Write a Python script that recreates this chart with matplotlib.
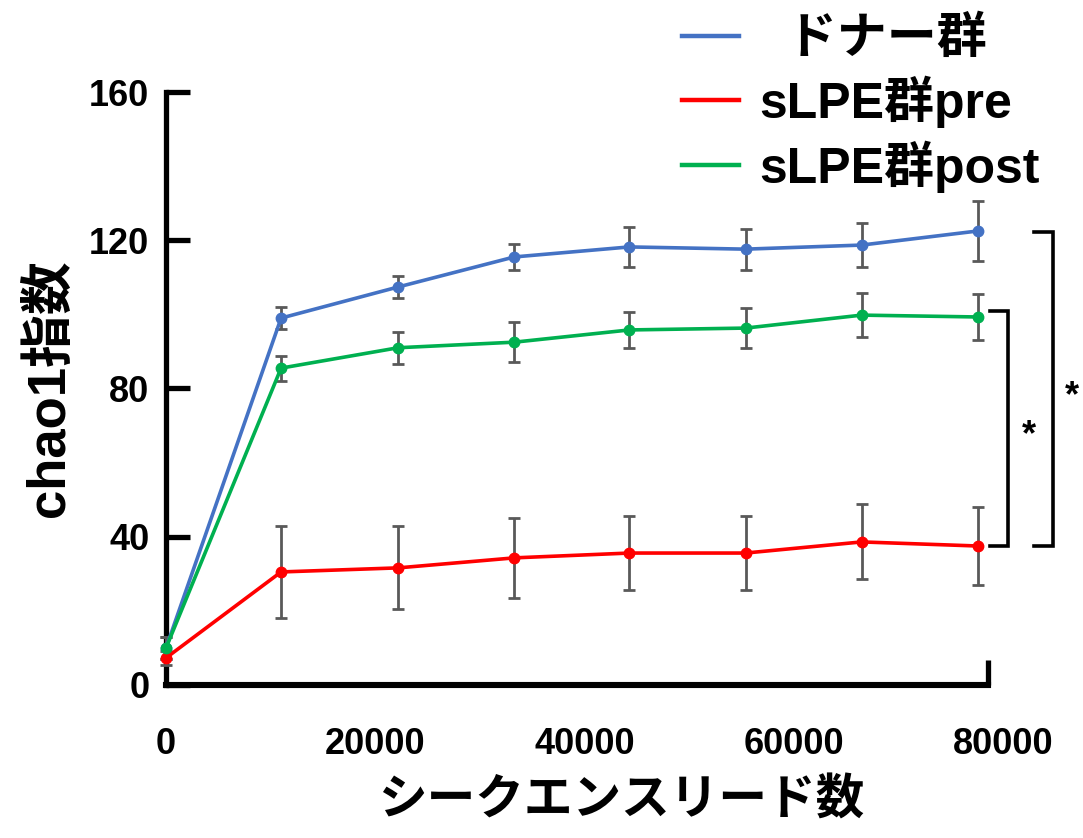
import numpy as np
import matplotlib
matplotlib.use("Agg")
import matplotlib.pyplot as plt
from matplotlib.lines import Line2D
from matplotlib.ticker import NullFormatter

plt.rcParams['font.family'] = ['Liberation Sans', 'Noto Sans CJK JP', 'DejaVu Sans']

# read depth (sequence reads)
reads = [0, 11000, 22200, 33300, 44300, 55400, 66500, 77600]

# chao1 index, mean and error per group
donor = [10.0, 99.0, 107.4, 115.5, 118.2, 117.6, 118.7, 122.5]
donor_err = [3.0, 3.0, 3.0, 3.5, 5.5, 5.5, 6.0, 8.0]

pre = [7.3, 30.5, 31.6, 34.3, 35.6, 35.6, 38.6, 37.5]
pre_err = [2.0, 12.3, 11.2, 10.8, 10.0, 10.0, 10.1, 10.4]

post = [10.0, 85.5, 91.0, 92.5, 95.8, 96.3, 99.8, 99.3]
post_err = [3.0, 3.4, 4.3, 5.4, 4.9, 5.3, 6.0, 6.2]

labels = ['  ドナー群', 'sLPE群pre', 'sLPE群post']
colors = ['#4472C4', '#FF0000', '#00B050']

xticks = [0, 20000, 40000, 60000, 80000]
yticks = [0, 40, 80, 120, 160]

fig = plt.figure(figsize=(10.83, 8.38), dpi=100)
ax = fig.add_axes([0.1533, 0.1826, 0.8403, 0.7076])

series = [(donor, donor_err), (pre, pre_err), (post, post_err)]
for (vals, errs), c in zip(series, colors):
    ax.errorbar(reads, vals, yerr=errs, color=c, lw=2.6, marker='o', ms=7.5,
                ecolor='#595959', elinewidth=2.0, capsize=4.5, capthick=2.0,
                zorder=3, clip_on=False)

ax.set_xlim(0, 87000)
ax.set_ylim(0, 160)

for s in ['top', 'right']:
    ax.spines[s].set_visible(False)
ax.spines['left'].set_linewidth(3.8)
ax.spines['bottom'].set_linewidth(4.4)
ax.spines['bottom'].set_bounds(0, 78600)

ax.set_yticks(yticks)
ax.tick_params(axis='y', direction='in', length=17, width=3.8, pad=12,
               labelsize=26)
ax.set_xticks(xticks)
ax.set_xticks([78600], minor=True)
ax.xaxis.set_minor_formatter(NullFormatter())
ax.tick_params(axis='x', which='major', length=0, pad=30, labelsize=26)
ax.tick_params(axis='x', which='minor', direction='in', length=18, width=3.8)
for t in ax.get_xticklabels() + ax.get_yticklabels():
    t.set_fontweight('bold')

ax.set_ylabel('chao1指数', fontsize=38, fontweight='bold', labelpad=10)
ax.set_xlabel('シークエンスリード数', fontsize=35, fontweight='bold', labelpad=12)

# significance brackets
def bracket(x0, x1, ytop, ybot, xs):
    ax.plot([x0, x1, x1, x0], [ytop, ytop, ybot, ybot], color='black',
            lw=2.6, clip_on=False, solid_joinstyle='miter')
    ax.text(xs, (ytop + ybot) / 2 - 2, '*', fontsize=26, fontweight='bold',
            ha='center', va='center', clip_on=False)

bracket(78800, 80500, post[-1] + 1.6, pre[-1], 82500)
bracket(83000, 84800, donor[-1] - 0.3, pre[-1], 86600)

handles = [Line2D([], [], color=c, lw=3.2) for c in colors]
fig.legend(handles, labels, loc='upper left', bbox_to_anchor=(0.602, 1.016),
           frameon=False, borderpad=0.1, handlelength=1.15, handletextpad=0.4,
           labelspacing=0.25, prop={'size': 36, 'weight': 'bold'})

fig.savefig('out.png', dpi=100)
